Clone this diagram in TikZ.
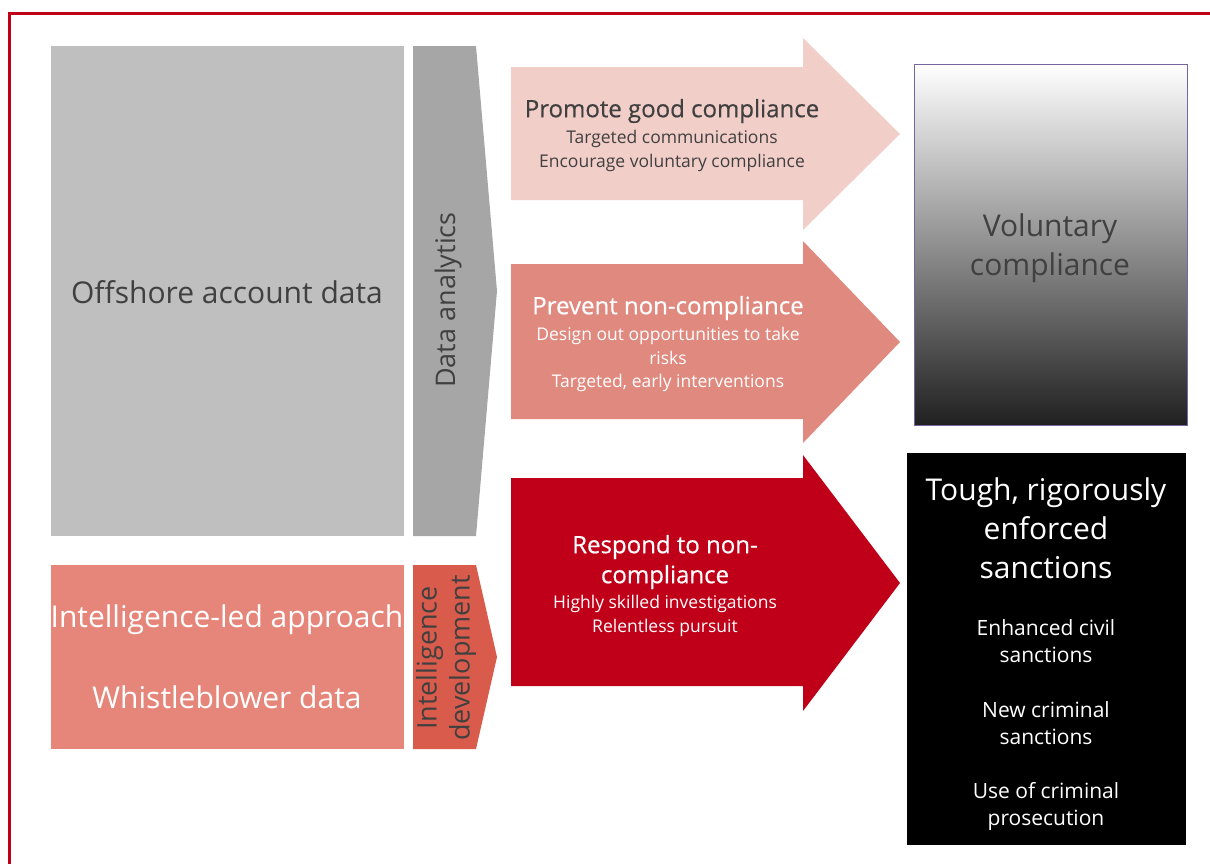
\documentclass[tikz,border=0pt]{standalone}
\usepackage{fontspec}
\setmainfont{Open Sans}
\usetikzlibrary{positioning}
\definecolor{frameRed}{RGB}{192,0,24}
\definecolor{offshoreGray}{RGB}{191,191,191}
\definecolor{analyticsGray}{RGB}{166,166,166}
\definecolor{intelPink}{RGB}{230,134,122}
\definecolor{intelDevRed}{RGB}{217,91,75}
\definecolor{promotePink}{RGB}{242,206,201}
\definecolor{preventPink}{RGB}{224,137,127}
\definecolor{respondRed}{RGB}{192,0,24}
\definecolor{textGray}{RGB}{64,64,64}
\definecolor{voluntaryEdge}{RGB}{118,102,160}
\definecolor{shadeMid}{RGB}{190,190,190}
\definecolor{shadeDark}{RGB}{32,32,32}
\tikzstyle{diagram} = [x = 1pt, y = -1pt]
\tikzstyle{frameLine} = [color=frameRed, line width = 3pt]
\tikzstyle{blockText} = [align=center, inner sep=0pt]
\tikzstyle{bigText} = [blockText, font=\fontsize{30}{39}\selectfont]
\tikzstyle{sideText} = [blockText, font=\fontsize{27}{33}\selectfont, rotate=90]
\tikzstyle{titleText} = [blockText, font=\fontsize{24}{30}\selectfont\addfontfeatures{FakeBold=0.5}]
\tikzstyle{smallText} = [blockText, font=\fontsize{17.5}{23.5}\selectfont]
\tikzstyle{listText} = [blockText, font=\fontsize{21}{27}\selectfont]
\newcommand{\tabShape}[3]{\fill [#1] (413,#2) -- (476,#2) -- (497,{(#2+#3)/2}) -- (476,#3) -- (413,#3) -- cycle;}
\newcommand{\bigArrow}[5]{\fill [#1] (511,#2) -- (803,#2) -- (803,#4) -- (900,{(#4+#5)/2}) -- (803,#5) -- (803,#3) -- (511,#3) -- cycle;}

\begin{document}
\begin{tikzpicture}[diagram]
  \useasboundingbox (0,0) rectangle (1210,863);
  % frame
  \draw [frameLine] (1212,13) -- (9,13) -- (9,865);
  % data sources
  \fill [offshoreGray] (51,46) rectangle (404,536);
  \fill [intelPink] (51,565) rectangle (404,749);
  \tabShape{analyticsGray}{46}{536}
  \tabShape{intelDevRed}{565}{749}
  \node [bigText, text=textGray] (offshore) at (227,292) {Offshore account data};
  \node [bigText, text=white] (intelLed) at (227,620) {Intelligence-led approach};
  \node [bigText, text=white] (whistle) at (227,697) {Whistleblower data};
  \node [sideText, text=textGray] (analytics) at (448,300) {Data analytics};
  \node [sideText, text=textGray] (intelDev) at (446,658) {Intelligence\\development};
  % arrows
  \bigArrow{promotePink}{67}{200}{38}{230}
  \bigArrow{preventPink}{264}{419}{241}{443}
  \bigArrow{respondRed}{478}{686}{455}{711}
  \node [titleText, text=textGray] (promote) at (672,111) {Promote good compliance};
  \node [smallText, text=textGray, below=7pt of promote] (promoteList) {Targeted communications\\Encourage voluntary compliance};
  \node [titleText, text=white] (prevent) at (668,308) {Prevent non-compliance};
  \node [smallText, text=white, below=7pt of prevent] (preventList) {Design out opportunities to take\\risks\\Targeted, early interventions};
  \node [titleText, text=white] (respond) at (665,562) {Respond to non-\\compliance};
  \node [smallText, text=white, below=6pt of respond] (respondList) {Highly skilled investigations\\Relentless pursuit};
  % outcomes
  \shade [top color=white, middle color=shadeMid, bottom color=shadeDark] (914,64) rectangle (1187,425);
  \draw [voluntaryEdge, line width=1pt] (914,64) rectangle (1187,425);
  \node [bigText, text=textGray] (voluntary) at (1050,248) {Voluntary\\compliance};
  \fill [black] (907,453) rectangle (1186,845);
  \node [bigText, text=white] (tough) at (1046,528) {Tough, rigorously\\enforced\\sanctions};
  \node [listText, text=white] (civil) at (1046,641) {Enhanced civil\\sanctions};
  \node [listText, text=white] (criminal) at (1046,723) {New criminal\\sanctions};
  \node [listText, text=white] (prosecution) at (1046,806) {Use of criminal\\prosecution};
\end{tikzpicture}
\end{document}
